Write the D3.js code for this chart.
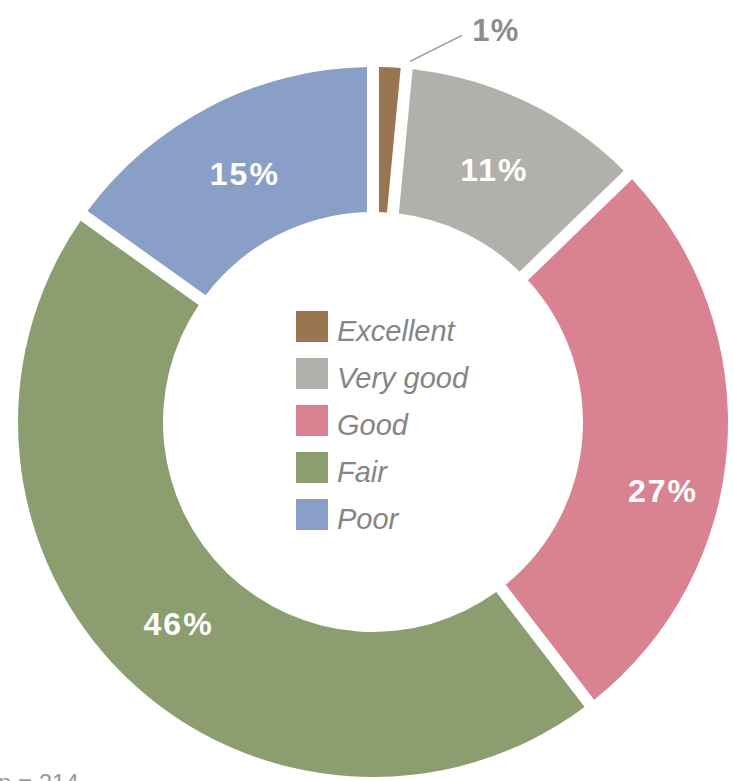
<!DOCTYPE html>
<html>
<head>
<meta charset="utf-8">
<script src="https://cdn.jsdelivr.net/npm/d3@7/dist/d3.min.js"></script>
<style>
  html, body { margin: 0; padding: 0; background: #fff; }
  svg { display: block; }
</style>
</head>
<body>
<svg id="chart" width="734" height="781"></svg>
<script>
// Health rating shares (percent)
const categories = ["Excellent", "Very good", "Good", "Fair", "Poor"];
const values = [1, 11, 27, 46, 15];
const colors = ["#9b7452", "#b1b0ab", "#d98292", "#8c9d70", "#8a9fc8"];
const sampleNote = "n = 214";

const W = 734, H = 781;
const cx = 373, cy = 422;
const outerR = 355, innerR = 210;
const gap = 12;

const svg = d3.select("#chart");
const g = svg.append("g").attr("transform", `translate(${cx},${cy})`);

const data = categories.map((c, i) => ({ name: c, value: values[i], color: colors[i] }));

const pie = d3.pie().value(d => d.value).sort(null)
  .startAngle(0).endAngle(2 * Math.PI)
  .padAngle(gap / outerR);

const arc = d3.arc().innerRadius(innerR).outerRadius(outerR).padRadius(outerR);

const arcs = pie(data);

g.selectAll("path.slice")
  .data(arcs)
  .join("path")
  .attr("class", "slice")
  .attr("d", arc)
  .attr("fill", d => d.data.color);

// Percentage labels: white inside the ring, the tiny slice gets an outside callout
const labelR = 280;
const labelTweak = { "Good": { da: 0.16, r: 298 } };
const fmt = v => v + "%";

arcs.forEach(a => {
  const name = a.data.name;
  if (a.data.value < 5) {
    const mid = (a.startAngle + a.endAngle) / 2;
    const p0 = [Math.sin(mid) * (outerR + 6) + 20, -Math.cos(mid) * (outerR + 6)];
    const p1 = [p0[0] + 52, p0[1] - 26];
    g.append("line")
      .attr("x1", p0[0]).attr("y1", p0[1])
      .attr("x2", p1[0]).attr("y2", p1[1])
      .attr("stroke", "#9a9a9a").attr("stroke-width", 1.6);
    g.append("text")
      .attr("x", p1[0] + 10).attr("y", p1[1] + 6)
      .attr("font-family", "Liberation Sans, Arial, sans-serif")
      .attr("font-weight", "bold")
      .attr("font-size", 31)
      .attr("letter-spacing", 1.5)
      .attr("fill", "#8c8c8c")
      .text(fmt(a.data.value));
  } else {
    const t = labelTweak[name] || {};
    const mid = (a.startAngle + a.endAngle) / 2 + (t.da || 0);
    const r = t.r || labelR;
    g.append("text")
      .attr("x", Math.sin(mid) * r)
      .attr("y", -Math.cos(mid) * r)
      .attr("dy", "0.36em")
      .attr("text-anchor", "middle")
      .attr("font-family", "Liberation Sans, Arial, sans-serif")
      .attr("font-weight", "bold")
      .attr("font-size", 32)
      .attr("letter-spacing", 2)
      .attr("fill", "#ffffff")
      .text(fmt(a.data.value));
  }
});

// Legend in the hole of the donut
const legend = svg.append("g").attr("transform", "translate(296,311)");
const rowH = 47;
const item = legend.selectAll("g.item")
  .data(data)
  .join("g")
  .attr("class", "item")
  .attr("transform", (d, i) => `translate(0,${i * rowH})`);
item.append("rect")
  .attr("width", 32).attr("height", 31)
  .attr("fill", d => d.color);
item.append("text")
  .attr("x", 41).attr("y", 30)
  .attr("font-family", "Liberation Sans, Arial, sans-serif")
  .attr("font-style", "italic")
  .attr("font-size", 29)
  .attr("fill", "#858585")
  .text(d => d.name);

// Sample size note, bottom left (runs off the lower edge)
svg.append("text")
  .attr("x", -2).attr("y", 791)
  .attr("font-family", "Liberation Sans, Arial, sans-serif")
  .attr("font-size", 24)
  .attr("fill", "#9a9a9a")
  .text(sampleNote);
</script>
</body>
</html>
